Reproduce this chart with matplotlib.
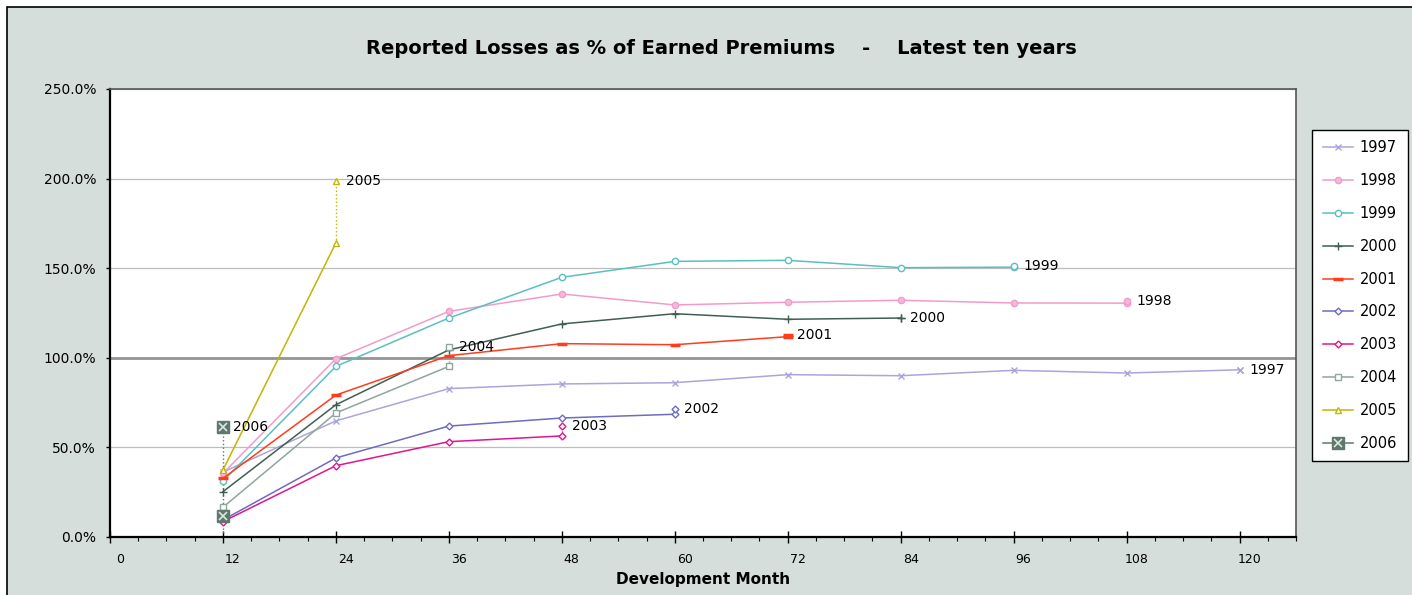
import matplotlib.pyplot as plt
from matplotlib.patches import Rectangle
from matplotlib.transforms import ScaledTranslation
from matplotlib.ticker import MultipleLocator, FuncFormatter
from matplotlib.legend_handler import HandlerTuple

# development months and accident years
months = [12, 24, 36, 48, 60, 72, 84, 96, 108, 120]
years = ['1997', '1998', '1999', '2000', '2001', '2002', '2003', '2004', '2005', '2006']

# reported losses as % of earned premiums
loss_1997 = [36.2, 64.8, 82.8, 85.4, 86.1, 90.6, 90.0, 93.0, 91.5, 93.3]
loss_1998 = [35.5, 99.5, 125.9, 135.6, 129.5, 131.0, 132.1, 130.6, 130.5]
loss_1999 = [31.2, 95.2, 122.2, 144.9, 153.8, 154.4, 150.3, 150.6]
loss_2000 = [25.3, 73.8, 104.4, 118.9, 124.6, 121.5, 122.2]
loss_2001 = [32.7, 79.2, 101.2, 107.9, 107.3, 111.8]
loss_2002 = [9.5, 44.1, 61.9, 66.4, 68.5]
loss_2003 = [8.6, 39.8, 53.2, 56.4]
loss_2004 = [16.6, 69.2, 95.2]
loss_2005 = [37.4, 164.1]
loss_2006 = [11.9]

# projected level shown with the year label, and where its dotted drop line ends
ultimate = [93.4, 131.5, 151.2, 122.4, 112.9, 71.6, 61.9, 106.0, 198.8, 61.2]
drop_to = [93.3, 130.5, 150.6, 122.2, 111.8, 68.5, 56.4, 95.2, 164.1, 2.0]

losses = [loss_1997, loss_1998, loss_1999, loss_2000, loss_2001,
          loss_2002, loss_2003, loss_2004, loss_2005, loss_2006]

colors = ['#ADA4DA', '#F29BCB', '#5BBFC0', '#405E52', '#FF3D1C',
          '#6E6BC0', '#E0168C', '#8FA69C', '#C2B600', '#5E786C']
markers = ['x', 'o', 'o', '+', '_', 'D', 'D', 's', '^', 's']
faces = ['#ADA4DA', '#F7B9DB', 'white', '#405E52', '#FF3D1C',
         'white', 'white', 'white', 'white', '#5E786C']
msizes = [5, 4.5, 4.5, 6, 7, 3.5, 3.5, 4.5, 5, 8.5]

fig = plt.figure(figsize=(14.12, 5.95), dpi=100)
fig.patch.set_facecolor('white')
fig.patches.append(Rectangle((7 / 1412, -0.01), 1.0, (595 - 7) / 595 + 0.01,
                             transform=fig.transFigure, facecolor='#D5DEDA',
                             edgecolor='black', lw=1.2, zorder=-1))

ax = fig.add_axes([110 / 1412, (595 - 537) / 595, 1186 / 1412, 448 / 595])
ax.set_facecolor('white')

handles = []
for i, yr in enumerate(years):
    x = months[:len(losses[i])]
    mew = 2.5 if markers[i] == '_' else 1.0
    line, = ax.plot(x, losses[i], color=colors[i], lw=1.1, marker=markers[i],
                    markersize=msizes[i], markerfacecolor=faces[i],
                    markeredgecolor=colors[i], markeredgewidth=mew, zorder=3)
    xl = x[-1]
    ax.plot([xl, xl], [drop_to[i], ultimate[i]], color=colors[i], lw=1, ls=':', zorder=2)
    ax.plot([xl], [ultimate[i]], marker=markers[i], markersize=msizes[i],
            markerfacecolor=faces[i], markeredgecolor=colors[i],
            markeredgewidth=mew, ls='none', zorder=3)
    ax.annotate(yr, (xl, ultimate[i]), xytext=(7, 0), textcoords='offset points',
                va='center', ha='left', fontsize=10, zorder=4)
    if yr == '2006':
        cross, = ax.plot([xl, xl], [losses[i][-1], ultimate[i]], ls='none', marker='x',
                         markersize=5.5, markeredgecolor='#DDE6E2', markeredgewidth=1.2,
                         zorder=4)
        handles.append((line, cross))
    else:
        handles.append(line)

ax.set_xlim(0, 126)
ax.set_ylim(0, 250)
ax.xaxis.set_major_locator(MultipleLocator(12))
ax.xaxis.set_minor_locator(MultipleLocator(3))
ax.yaxis.set_major_locator(MultipleLocator(50))
ax.yaxis.set_major_formatter(FuncFormatter(lambda v, p: f'{v:.1f}%'))

ax.tick_params(axis='x', which='major', direction='inout', length=9, width=1,
               labelsize=9, pad=7)
ax.tick_params(axis='x', which='minor', direction='out', length=3, width=0.8)
ax.tick_params(axis='y', which='major', direction='out', length=3, width=1,
               labelsize=10, pad=7)
shift = ScaledTranslation(10 / 100, 0, fig.dpi_scale_trans)
for lbl in ax.get_xticklabels():
    lbl.set_transform(lbl.get_transform() + shift)

ax.set_axisbelow(True)
ax.yaxis.grid(True, color='#BDBDBD', lw=0.9)
ax.axhline(100, color='#959595', lw=2, zorder=1.5)

for side in ['left', 'bottom']:
    ax.spines[side].set_color('black')
    ax.spines[side].set_linewidth(1.6)
for side in ['top', 'right']:
    ax.spines[side].set_color('#555555')
    ax.spines[side].set_linewidth(1.2)

ax.set_xlabel('Development Month', fontsize=11, fontweight='bold', labelpad=4)
fig.text(721 / 1412, 1 - 48 / 595,
         'Reported Losses as % of Earned Premiums    -    Latest ten years',
         ha='center', va='center', fontsize=14, fontweight='bold')

leg = fig.legend(handles, years, loc='upper left',
                 bbox_to_anchor=(1312 / 1412, 1 - 130 / 595),
                 bbox_transform=fig.transFigure, fontsize=10.5, frameon=True,
                 fancybox=False, edgecolor='black', framealpha=1,
                 labelspacing=1.22, handlelength=2.1, handletextpad=0.45,
                 borderpad=0.72, borderaxespad=0,
                 handler_map={tuple: HandlerTuple(ndivide=1)})
leg.get_frame().set_linewidth(1)

fig.savefig('out.png', dpi=100)
